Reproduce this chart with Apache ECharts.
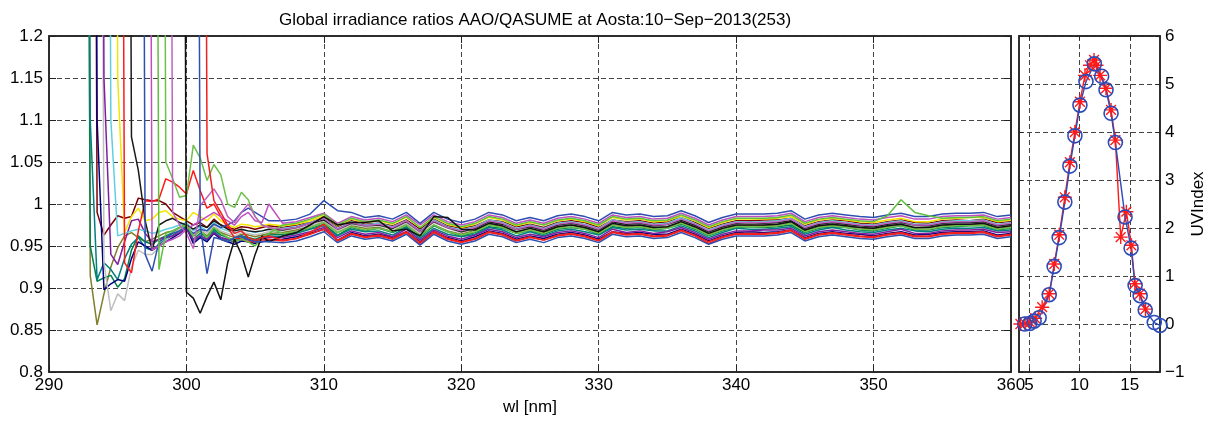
<!DOCTYPE html>
<html lang="en">
<head>
<meta charset="UTF-8">
<title>Global irradiance ratios AAO/QASUME</title>
<script src="https://cdn.jsdelivr.net/npm/echarts@6/dist/echarts.min.js"></script>
<style>
  html, body { margin: 0; padding: 0; background: #fff; }
  #main { width: 1224px; height: 428px; }
</style>
</head>
<body>
<div id="main"></div>
<script>
// wavelength grid [nm]: 0.5 nm steps up to 306, then 1 nm
var wl = [292,292.5,293,293.5,294,294.5,295,295.5,296,296.5,297,297.5,298,298.5,299,299.5,300,300.5,301,301.5,302,302.5,303,303.5,304,304.5,305,305.5,306,
  307,308,309,310,311,312,313,314,315,316,317,318,319,320,321,322,323,324,325,326,327,328,329,330,331,332,333,334,335,336,337,338,339,340,
  341,342,343,344,345,346,347,348,349,350,351,352,353,354,355,356,357,358,359,360];

// first wavelength of every spectrum (the value there is far above the plot)
var firstWl = [292.5,292.5,292.5,293,293,293.5,293.5,294,294.5,295,295.5,296.5,297,297.5,298,298.5,299.5,300.5,301];

var lineColors = ['#7f7f2a','#00804d','#008080','#7f0000','#00007f','#bfbfbf','#7f1f9f','#5fcfdf','#f2e600','#ff1a1a',
  '#1a1a1a','#2f4fb0','#bf4fbf','#5fbf3f','#6fc04a','#c060c0','#111111','#3050b0','#f02020'];

// ratio AAO/QASUME, one array per spectrum, starting at firstWl
var r01 = [3,.915,.856,.893,.925,.948,.962,.966,.96,.955,.958,.962,.966,.968,.972,.976,.962,.968,.962,.972,.966,.963,.96,.964,.963,.961,.963,.965,
  .966,.969,.974,.978,.966,.974,.971,.972,.967,.976,.963,.975,.968,.964,.969,.976,.973,.966,.971,.966,.972,.975,.971,.966,.976,.972,.974,.971,.973,.978,.972,.964,.970,.974,.975,.974,.975,.977,.968,.973,.975,.973,.972,.970,.973,.975,.971,.972,.974,.975,.976,.976,.971,.973];
var r02 = [3,.95,.908,.912,.915,.901,.911,.945,.962,.955,.952,.958,.962,.966,.97,.975,.958,.965,.96,.97,.963,.96,.957,.962,.96,.958,.961,.963,
  .964,.967,.971,.976,.963,.972,.968,.971,.966,.973,.961,.974,.967,.962,.966,.973,.971,.965,.968,.964,.970,.972,.970,.964,.973,.971,.972,.969,.971,.976,.970,.962,.968,.972,.973,.972,.973,.975,.966,.971,.973,.972,.969,.968,.971,.974,.969,.969,.972,.973,.974,.974,.969,.971];
var r03 = [3,1.1,.91,.93,.922,.91,.935,.952,.96,.948,.945,.952,.958,.963,.968,.974,.955,.962,.957,.968,.96,.957,.955,.96,.958,.956,.959,.961,
  .962,.965,.970,.974,.962,.970,.967,.968,.963,.972,.959,.971,.964,.961,.964,.972,.969,.962,.967,.962,.968,.970,.967,.963,.972,.969,.970,.968,.968,.974,.968,.960,.966,.971,.970,.970,.971,.973,.964,.969,.972,.969,.967,.966,.969,.971,.968,.967,.970,.971,.971,.972,.968,.969];
var r04 = [3,.99,.963,.975,.986,.983,.985,1.007,1.005,1.004,1.004,1.0,.99,.985,.98,.975,.978,.972,.982,.975,.972,.97,.973,.972,.97,.972,.974,
  .972,.975,.978,.984,.973,.980,.976,.977,.974,.981,.970,.982,.974,.971,.974,.981,.979,.973,.976,.972,.978,.980,.978,.972,.981,.979,.980,.977,.979,.984,.978,.971,.976,.980,.980,.981,.981,.983,.974,.979,.981,.980,.977,.976,.979,.981,.978,.977,.980,.981,.980,.982,.978,.979];
var r05 = [3,1.1,.898,.905,.91,.908,.935,.955,.95,.945,.95,.955,.96,.965,.972,.953,.96,.955,.965,.958,.955,.952,.956,.955,.953,.955,.957,
  .958,.961,.965,.970,.957,.966,.962,.964,.960,.967,.955,.967,.960,.956,.961,.968,.965,.958,.962,.959,.964,.966,.963,.958,.967,.965,.966,.964,.964,.970,.964,.956,.962,.966,.967,.966,.967,.969,.960,.965,.967,.965,.964,.962,.965,.967,.963,.964,.966,.967,.967,.968,.963,.965];
var r06 = [3,.93,.873,.893,.885,.925,.945,.94,.94,.948,.958,.965,.97,.976,.963,.97,.965,.975,.968,.965,.962,.966,.965,.963,.965,.967,
  .968,.971,.974,.980,.968,.976,.973,.974,.970,.977,.965,.978,.971,.966,.970,.977,.975,.969,.972,.968,.974,.976,.973,.969,.977,.975,.976,.973,.975,.980,.974,.966,.972,.976,.977,.976,.977,.979,.970,.975,.977,.975,.973,.972,.975,.977,.974,.973,.976,.977,.977,.978,.974,.975];
var r07 = [3,1.15,.94,.928,.955,.98,.982,.965,.955,.958,.96,.962,.966,.97,.957,.962,.958,.966,.96,.958,.955,.958,.957,.955,.958,.96,
  .960,.963,.967,.972,.960,.968,.964,.966,.961,.970,.957,.969,.962,.958,.963,.970,.967,.960,.964,.961,.966,.968,.965,.960,.970,.966,.968,.965,.967,.972,.966,.958,.964,.968,.968,.969,.969,.971,.962,.967,.969,.967,.965,.964,.967,.970,.965,.965,.968,.969,.969,.970,.966,.967];
var r08 = [3,1.1,.962,.965,.968,.97,.968,.965,.967,.97,.972,.975,.978,.968,.973,.968,.978,.971,.968,.965,.969,.968,.966,.968,.97,
  .971,.973,.978,.983,.971,.979,.975,.977,.973,.980,.968,.981,.973,.969,.973,.981,.978,.971,.975,.971,.977,.979,.976,.971,.981,.978,.979,.976,.977,.984,.977,.969,.975,.979,.979,.979,.980,.983,.973,.978,.980,.978,.976,.975,.978,.980,.976,.976,.979,.980,.980,.981,.976,.978];
var r09 = [3,1.15,.966,.985,.995,.98,.982,.99,.992,.985,.982,.98,.99,.985,.98,.988,.98,.975,.972,.976,.975,.973,.974,.976,
  .974,.976,.980,.986,.974,.982,.978,.980,.976,.984,.972,.984,.976,.972,.976,.984,.981,.974,.978,.975,.980,.982,.979,.974,.984,.981,.982,.979,.980,.986,.980,.972,.978,.982,.982,.982,.983,.985,.976,.981,.983,.981,.979,.978,.981,.983,.979,.979,.982,.983,.984,.984,.979,.981];
var r10 = [3,.93,.918,.968,1.004,1.003,1.006,1.03,1.026,1.02,1.012,1.04,1.016,.995,1.0,.985,.972,.96,.958,.955,.955,.957,.958,
  .956,.959,.966,.976,.956,.964,.960,.962,.958,.966,.952,.966,.958,.954,.958,.966,.963,.956,.960,.957,.962,.964,.961,.956,.966,.963,.964,.961,.962,.968,.962,.953,.960,.964,.964,.964,.965,.968,.958,.963,.965,.963,.961,.960,.963,.965,.961,.961,.964,.965,.965,.966,.961,.963];
var r11 = [3,1.08,1.04,.98,.945,.975,.98,.983,.978,.975,.97,.975,.972,.98,.975,.97,.968,.97,.968,.967,.968,.97,
  .969,.972,.977,.981,.970,.977,.974,.975,.971,.979,.967,.979,.972,.967,.971,.979,.976,.970,.973,.969,.975,.977,.974,.969,.979,.976,.977,.974,.976,.981,.975,.967,.973,.977,.978,.977,.978,.980,.971,.976,.978,.976,.974,.973,.976,.978,.975,.974,.977,.978,.978,.979,.974,.976];
var r12 = [3,.94,.92,.955,.96,.965,.968,.972,.965,.97,.968,.976,.972,.975,.98,.99,.995,.99,.985,.98,
  .980,.982,.988,1.004,.992,.990,.984,.986,.982,.990,.977,.990,.982,.978,.982,.990,.987,.980,.984,.980,.986,.988,.985,.980,.990,.987,.988,.985,.986,.992,.986,.978,.984,.988,.988,.988,.989,.992,.982,.987,.989,.987,.985,.984,.987,.989,.985,.985,.988,.989,.989,.990,.985,.987];
var r13 = [3,.945,.95,.955,.958,.962,.97,.975,.98,.985,.99,.985,.98,.975,.985,.99,.98,.978,1.0,
  .977,.979,.984,.989,.977,.985,.981,.983,.979,.987,.975,.987,.979,.975,.979,.987,.984,.977,.981,.977,.983,.985,.982,.977,.987,.984,.985,.982,.983,.989,.983,.975,.981,.985,.985,.985,.986,.989,.979,.984,.986,.984,.982,.981,.984,.986,.982,.982,.985,.986,.986,.987,.982,.984];
var r14 = [3,.922,.965,.968,.972,.975,.962,.968,.96,.972,.965,.96,.955,.958,.955,.95,.96,.965,
  .975,.977,.982,.988,.975,.983,.979,.981,.977,.985,.972,.985,.977,.973,.977,.985,.982,.975,.979,.975,.981,.983,.980,.975,.985,.982,.983,.980,.981,.987,.981,.973,.979,.983,.983,.983,.984,.987,.977,.982,.984,.982,.980,.979,.986,1.005,.990,.986,.983,.984,.984,.985,.980,.982];
var r15 = [3,1.05,1.03,1.008,1.01,1.07,1.055,1.028,1.047,1.035,1.0,.996,1.014,1.005,.985,.975,.972,
  .965,.967,.972,.978,.966,.973,.969,.971,.967,.975,.962,.975,.967,.963,.967,.975,.972,.965,.969,.965,.971,.973,.970,.965,.975,.972,.973,.970,.971,.977,.971,.963,.969,.973,.973,.973,.974,.977,.967,.972,.974,.972,.970,.969,.972,.974,.970,.970,.973,.974,.974,.975,.970,.972];
var r16 = [3,.99,.975,.965,.947,.998,1.008,1.018,1.005,.985,.978,.99,1.0,.985,.975,.972,
  .970,.972,.977,.983,.970,.978,.974,.976,.972,.980,.967,.980,.972,.968,.972,.980,.977,.970,.974,.970,.976,.978,.975,.970,.980,.977,.978,.975,.976,.982,.976,.968,.974,.978,.978,.978,.979,.982,.972,.977,.979,.977,.975,.974,.977,.979,.975,.975,.978,.979,.979,.980,.975,.977];
var r17 = [3,.895,.888,.87,.89,.907,.886,.93,.958,.94,.913,.94,.962,.955,
  .962,.966,.975,.985,.975,.978,.978,.980,.968,.970,.962,.985,.984,.970,.969,.977,.974,.967,.971,.967,.973,.975,.972,.967,.977,.974,.975,.972,.973,.979,.973,.965,.971,.975,.975,.975,.976,.979,.969,.974,.976,.974,.972,.971,.974,.976,.972,.972,.975,.976,.976,.977,.972,.974];
var r18 = [3,.975,.917,.96,.958,.955,.96,.962,.958,.955,.955,.955,
  .954,.956,.961,.967,.954,.962,.958,.960,.956,.964,.951,.964,.956,.952,.956,.964,.961,.954,.958,.954,.960,.962,.959,.954,.964,.961,.962,.959,.960,.966,.960,.952,.958,.962,.962,.962,.963,.966,.956,.961,.963,.961,.959,.958,.961,.963,.959,.959,.962,.963,.963,.964,.959,.961];
var r19 = [3,1.06,1.004,.99,.975,.965,.968,.96,.957,.96,.962,
  .957,.959,.964,.970,.957,.965,.961,.963,.959,.967,.954,.967,.959,.955,.959,.967,.964,.957,.961,.957,.963,.965,.962,.957,.967,.964,.965,.962,.963,.969,.963,.955,.961,.965,.965,.965,.966,.969,.959,.964,.966,.964,.962,.961,.964,.966,.962,.962,.965,.966,.966,.967,.962,.964];

// UV index during the day (right panel)
var hourAAO = [4.14,4.6,5.1,5.6,6.3,7.0,7.5,8.0,8.55,9.05,9.55,10.05,10.55,11.05,11.45,11.7,12.05,12.64,13.14,13.57,14.1,14.66,15.16,15.5,16.0,16.56];
var uviAAO = [0.0,0.01,0.03,0.12,0.35,0.63,1.25,1.86,2.64,3.37,4.0,4.63,5.18,5.39,5.5,5.39,5.18,4.91,4.46,3.83,1.81,2.34,1.64,0.84,0.63,0.31];
var hourQASUME = [4.57,5.07,5.5,6.0,7.0,7.49,7.99,8.55,9.05,9.55,10.05,10.65,11.48,12.21,12.64,13.14,13.57,14.53,15.13,15.53,16.03,16.53,17.43,18.0];
var uviQASUME = [0.0,0.01,0.06,0.13,0.61,1.2,1.8,2.54,3.29,3.92,4.56,5.05,5.42,5.16,4.88,4.39,3.78,2.23,1.58,0.8,0.59,0.29,0.03,-0.03];

var xTicksMain = [290,300,310,320,330,340,350,360];
var xTicksUV = [5,10,15];

var ratios = [r01,r02,r03,r04,r05,r06,r07,r08,r09,r10,r11,r12,r13,r14,r15,r16,r17,r18,r19];

var fontName = 'Liberation Sans, Arial, sans-serif';
var dash = {type: [5, 3], color: '#444', width: 1};
var boxLine = {onZero: false, lineStyle: {color: '#222', width: 1.5}};

var series = [];
ratios.forEach(function (vals, i) {
    var k0 = wl.indexOf(firstWl[i]);
    var data = [];
    for (var k = 0; k < vals.length && k0 + k < wl.length; k++) {
        data.push([wl[k0 + k], vals[k]]);
    }
    series.push({
        type: 'line', xAxisIndex: 0, yAxisIndex: 0,
        data: data, symbol: 'none', silent: true,
        lineStyle: {color: lineColors[i], width: 1.5}
    });
});

function pairs(xs, ys) {
    return xs.map(function (x, i) { return [x, ys[i]]; });
}

var asterisk = 'path://M0,-10L0,10M-10,0L10,0M-7,-7L7,7M-7,7L7,-7';

series.push({
    type: 'line', xAxisIndex: 2, yAxisIndex: 2, clip: false, silent: true,
    data: pairs(hourAAO, uviAAO),
    symbol: asterisk, symbolSize: 14, showAllSymbol: true,
    lineStyle: {color: '#ff1a1a', width: 1.4},
    itemStyle: {color: '#ff1a1a', borderColor: '#ff1a1a', borderWidth: 1.4}
});
series.push({
    type: 'line', xAxisIndex: 2, yAxisIndex: 2, clip: false, silent: true,
    data: pairs(hourQASUME, uviQASUME),
    symbol: 'circle', symbolSize: 14, showAllSymbol: true,
    lineStyle: {color: '#2b4bb8', width: 1.4},
    itemStyle: {color: 'rgba(0,0,0,0)', borderColor: '#2b4bb8', borderWidth: 1.6}
});

var labelStyle = {color: '#000', fontSize: 17, fontFamily: fontName};

var option = {
    animation: false,
    backgroundColor: '#fff',
    title: {
        text: 'Global irradiance ratios AAO/QASUME at Aosta:10\u2212Sep\u22122013(253)',
        left: 530, top: 7, textAlign: 'center',
        textStyle: {color: '#000', fontSize: 17, fontWeight: 'normal', fontFamily: fontName}
    },
    grid: [
        {left: 49, top: 36, width: 962, height: 336, show: true, borderColor: '#222', borderWidth: 1.5, outerBoundsMode: 'none'},
        {left: 1019, top: 36, width: 141, height: 336, show: true, borderColor: '#222', borderWidth: 1.5, outerBoundsMode: 'none'}
    ],
    xAxis: [
        {type: 'value', gridIndex: 0, min: 290, max: 360, interval: 10, position: 'bottom',
         name: 'wl [nm]', nameLocation: 'middle', nameGap: 27,
         nameTextStyle: {color: '#000', fontSize: 17, fontFamily: fontName},
         axisLine: boxLine, axisTick: {inside: true, length: 7, lineStyle: {color: '#222'}},
         axisLabel: Object.assign({margin: 5, customValues: xTicksMain}, labelStyle),
         splitLine: {show: true, lineStyle: dash}},
        {type: 'value', gridIndex: 0, min: 290, max: 360, interval: 10, position: 'top',
         axisLine: boxLine, axisTick: {inside: true, length: 7, lineStyle: {color: '#222'}},
         axisLabel: {show: false}, splitLine: {show: false}},
        {type: 'value', gridIndex: 1, min: 4, max: 18, position: 'bottom',
         axisLine: boxLine, axisTick: {inside: true, length: 4, customValues: xTicksUV, lineStyle: {color: '#222'}},
         axisLabel: Object.assign({margin: 5, customValues: xTicksUV}, labelStyle),
         splitLine: {show: true, lineStyle: dash}},
        {type: 'value', gridIndex: 1, min: 4, max: 18, position: 'top',
         axisLine: boxLine, axisTick: {inside: true, length: 4, customValues: xTicksUV, lineStyle: {color: '#222'}},
         axisLabel: {show: false}, splitLine: {show: false}}
    ],
    yAxis: [
        {type: 'value', gridIndex: 0, min: 0.8, max: 1.2, interval: 0.05, position: 'left',
         axisLine: boxLine, axisTick: {inside: true, length: 7, lineStyle: {color: '#222'}},
         axisLabel: Object.assign({margin: 6}, labelStyle),
         splitLine: {show: true, lineStyle: dash}},
        {type: 'value', gridIndex: 0, min: 0.8, max: 1.2, interval: 0.05, position: 'right',
         axisLine: boxLine, axisTick: {inside: true, length: 7, lineStyle: {color: '#222'}},
         axisLabel: {show: false}, splitLine: {show: false}},
        {type: 'value', gridIndex: 1, min: -1, max: 6, interval: 1, position: 'right',
         name: 'UVIndex', nameLocation: 'middle', nameGap: 30, nameRotate: 90,
         nameTextStyle: {color: '#000', fontSize: 17, fontFamily: fontName},
         axisLine: boxLine, axisTick: {inside: true, length: 4, lineStyle: {color: '#222'}},
         axisLabel: Object.assign({margin: 5, formatter: function (v) {
             return v < 0 ? '\u2212' + (-v) : String(v);
         }}, labelStyle),
         splitLine: {show: true, lineStyle: dash}},
        {type: 'value', gridIndex: 1, min: -1, max: 6, interval: 1, position: 'left',
         axisLine: boxLine, axisTick: {inside: true, length: 4, lineStyle: {color: '#222'}},
         axisLabel: {show: false}, splitLine: {show: false}}
    ],
    series: series
};

var chart = echarts.init(document.getElementById('main'));
chart.setOption(option);
</script>
</body>
</html>
